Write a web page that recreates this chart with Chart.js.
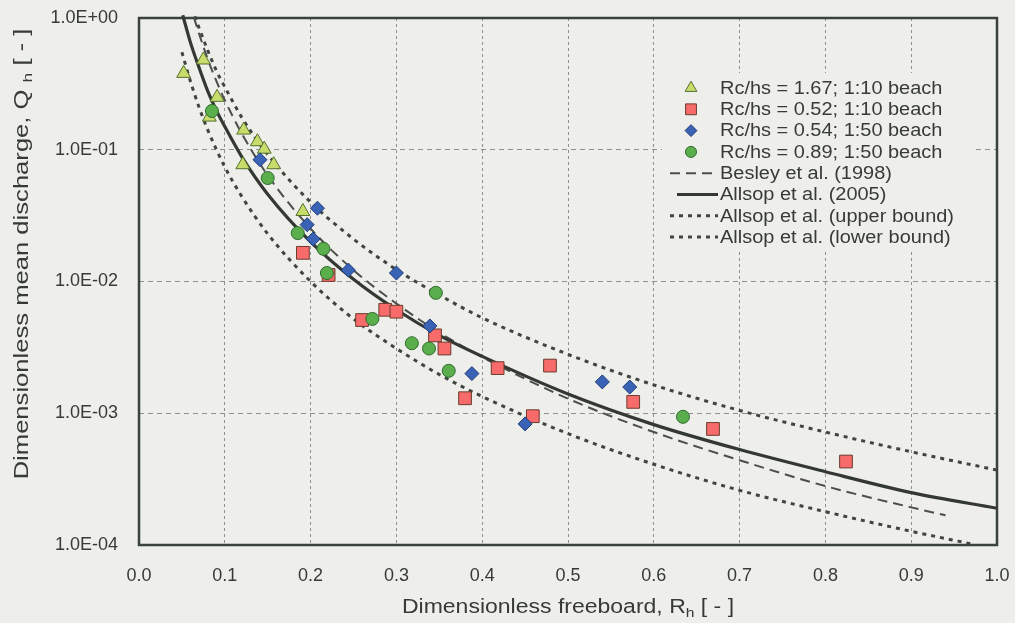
<!DOCTYPE html>
<html>
<head>
<meta charset="utf-8">
<script src="https://cdn.jsdelivr.net/npm/chart.js@4.4.1/dist/chart.umd.min.js"></script>
<style>
  html, body { margin: 0; padding: 0; background: #eeeeeb; }
  #wrap { width: 1015px; height: 623px; }
</style>
</head>
<body>
<div id="wrap"><canvas id="overtopping" width="1015" height="623"></canvas></div>
<script>
// ---- axes ----
const xTicks = [0, 0.1, 0.2, 0.3, 0.4, 0.5, 0.6, 0.7, 0.8, 0.9, 1.0];
const xTickLabels = ['0.0', '0.1', '0.2', '0.3', '0.4', '0.5', '0.6', '0.7', '0.8', '0.9', '1.0'];
const yTicks = [1e-4, 1e-3, 1e-2, 1e-1, 1];
const yTickLabels = ['1.0E-04', '1.0E-03', '1.0E-02', '1.0E-01', '1.0E+00'];

// ---- measured points ----
const triX = [0.052, 0.075, 0.091, 0.082, 0.122, 0.138, 0.146, 0.121, 0.157, 0.191];
const triQ = [0.38, 0.48, 0.25, 0.177, 0.141, 0.115, 0.101, 0.077, 0.077, 0.034];

const sqX = [0.191, 0.221, 0.260, 0.287, 0.300, 0.345, 0.356, 0.418, 0.479, 0.380, 0.459, 0.576, 0.669, 0.824];
const sqQ = [0.0165, 0.0112, 0.0051, 0.0061, 0.0059, 0.0039, 0.0031, 0.0022, 0.0023, 0.0013, 0.00095, 0.00122, 0.00076, 0.00043];

const diaX = [0.141, 0.208, 0.196, 0.203, 0.244, 0.300, 0.339, 0.388, 0.450, 0.540, 0.572];
const diaQ = [0.084, 0.036, 0.027, 0.021, 0.0122, 0.0116, 0.0046, 0.0020, 0.00083, 0.00173, 0.00158];

const cirX = [0.085, 0.150, 0.185, 0.215, 0.219, 0.272, 0.318, 0.338, 0.361, 0.346, 0.634];
const cirQ = [0.197, 0.061, 0.0233, 0.0177, 0.0116, 0.0052, 0.0034, 0.0031, 0.0021, 0.0082, 0.00094];

// ---- prediction curves ----
const besleyX = [0.064, 0.07, 0.08, 0.09, 0.1, 0.12, 0.15, 0.2, 0.25, 0.3, 0.35, 0.4, 0.5, 0.6, 0.7, 0.8, 0.9, 0.94];
const besleyQ = [1.01, 0.76, 0.49, 0.335, 0.238, 0.132, 0.064, 0.0252, 0.0122, 0.0068, 0.0041, 0.00267, 0.00129, 0.00072, 0.00044, 0.00028, 0.000193, 0.000168];

const allsopX = [0.051, 0.06, 0.07, 0.08, 0.09, 0.1, 0.12, 0.15, 0.2, 0.25, 0.3, 0.35, 0.4, 0.5, 0.6, 0.7, 0.8, 0.9, 1.0];
const allsopQ = [1.05, 0.65, 0.42, 0.28, 0.20, 0.15, 0.088, 0.046, 0.020, 0.0104, 0.0061, 0.0039, 0.0027, 0.0014, 0.00082, 0.00053, 0.00036, 0.00025, 0.00019];

const upperX = [0.065, 0.07, 0.08, 0.09, 0.1, 0.12, 0.15, 0.2, 0.25, 0.3, 0.35, 0.4, 0.5, 0.6, 0.7, 0.8, 0.9, 1.0];
const upperQ = [1.03, 0.84, 0.57, 0.40, 0.30, 0.175, 0.092, 0.040, 0.021, 0.0123, 0.0079, 0.0053, 0.0028, 0.00164, 0.00105, 0.00072, 0.00051, 0.00037];

const lowerX = [0.05, 0.06, 0.07, 0.08, 0.09, 0.1, 0.12, 0.15, 0.2, 0.25, 0.3, 0.35, 0.4, 0.5, 0.6, 0.7, 0.8, 0.9, 0.97];
const lowerQ = [0.55, 0.33, 0.21, 0.142, 0.101, 0.074, 0.044, 0.023, 0.0100, 0.0052, 0.0031, 0.00197, 0.00134, 0.0007, 0.00041, 0.00026, 0.000179, 0.000127, 0.000102];

const TEXT = '#363b37';
const BG = '#eeeeeb';
const FONT = '"Liberation Sans", Arial, sans-serif';

function pts(xs, ys) {
    return xs.map((x, i) => ({ x, y: ys[i] }));
}

function markerSet(label, xs, ys, style, radius, fill, stroke, order) {
    return {
        label, data: pts(xs, ys), order,
        pointStyle: style, pointRadius: radius, pointHoverRadius: radius,
        backgroundColor: fill, borderColor: stroke, borderWidth: 1,
        showLine: false
    };
}

function curveSet(label, xs, ys, width, dash, color, order) {
    return {
        label, data: pts(xs, ys), order,
        showLine: true, pointRadius: 0, pointHoverRadius: 0,
        borderColor: color, borderWidth: width, borderDash: dash,
        cubicInterpolationMode: 'monotone', fill: false,
        clip: { left: 0, top: 8, right: 0, bottom: 0 }
    };
}

const datasets = [
    markerSet('Rc/hs = 1.67; 1:10 beach', triX, triQ, 'triangle', 8, '#c8dc6c', '#55702e', 2),
    markerSet('Rc/hs = 0.52; 1:10 beach', sqX, sqQ, 'rect', 9, '#f76b6b', '#6b3b2e', 3),
    markerSet('Rc/hs = 0.54; 1:50 beach', diaX, diaQ, 'rectRot', 7, '#3b63b5', '#1f3c7a', 1),
    markerSet('Rc/hs = 0.89; 1:50 beach', cirX, cirQ, 'circle', 6.5, '#5bae4c', '#2f6b2f', 0),
    curveSet('Besley et al. (1998)', besleyX, besleyQ, 2, [10, 6], '#4a4f4b', 5),
    curveSet('Allsop et al. (2005)', allsopX, allsopQ, 3.2, [], '#333833', 4),
    curveSet('Allsop et al. (upper bound)', upperX, upperQ, 3, [4, 5], '#404540', 6),
    curveSet('Allsop et al. (lower bound)', lowerX, lowerQ, 3, [4, 5], '#404540', 7)
];

// text with a subscript part, optionally stretched horizontally
function drawParts(ctx, parts, size, sx) {
    ctx.save();
    ctx.scale(sx, 1);
    let w = 0;
    parts.forEach(p => {
        ctx.font = (p.sub ? size * 0.68 : size) + 'px ' + FONT;
        w += ctx.measureText(p.t).width;
    });
    let x = -w / 2;
    parts.forEach(p => {
        ctx.font = (p.sub ? size * 0.68 : size) + 'px ' + FONT;
        ctx.fillText(p.t, x, p.sub ? size * 0.3 : 0);
        x += ctx.measureText(p.t).width;
    });
    ctx.restore();
}

const backdrop = {
    id: 'backdrop',
    beforeDraw(chart) {
        const ctx = chart.ctx;
        ctx.save();
        ctx.fillStyle = BG;
        ctx.fillRect(0, 0, chart.width, chart.height);
        ctx.restore();
    },
    beforeDatasetsDraw(chart) {
        const { ctx, chartArea: a } = chart;
        ctx.save();
        // legend panel hides the grid behind it
        ctx.fillStyle = BG;
        ctx.fillRect(662, 73, 312, 177);
        ctx.strokeStyle = '#39423b';
        ctx.lineWidth = 2.5;
        ctx.strokeRect(a.left, a.top, a.right - a.left, a.bottom - a.top);
        ctx.restore();
    }
};

const axisTitles = {
    id: 'axisTitles',
    afterDraw(chart) {
        const { ctx, chartArea: a } = chart;
        ctx.save();
        ctx.fillStyle = TEXT;
        ctx.textBaseline = 'middle';
        ctx.save();
        ctx.translate((a.left + a.right) / 2, 607);
        drawParts(ctx, [{ t: 'Dimensionless freeboard, R' }, { t: 'h', sub: true }, { t: ' [ - ]' }], 20, 1.15);
        ctx.restore();
        ctx.save();
        ctx.translate(22, 254);
        ctx.rotate(-Math.PI / 2);
        drawParts(ctx, [{ t: 'Dimensionless mean discharge, Q ' }, { t: 'h', sub: true }, { t: ' [ - ]' }], 20, 1.28);
        ctx.restore();
        ctx.restore();
    }
};

const legendBox = {
    id: 'legendBox',
    afterDraw(chart) {
        const ctx = chart.ctx;
        const rowY = i => 88 + i * 21.3;
        ctx.save();
        chart.data.datasets.forEach((ds, i) => {
            const y = rowY(i);
            if (ds.showLine) {
                ctx.save();
                ctx.strokeStyle = ds.borderColor;
                ctx.lineWidth = ds.borderWidth;
                ctx.setLineDash(ds.borderDash);
                ctx.beginPath();
                ctx.moveTo(ds.borderDash.length ? 670 : 677, y);
                ctx.lineTo(718, y);
                ctx.stroke();
                ctx.restore();
            } else {
                ctx.save();
                ctx.fillStyle = ds.backgroundColor;
                ctx.strokeStyle = ds.borderColor;
                ctx.lineWidth = 1;
                Chart.helpers.drawPoint(ctx, { pointStyle: ds.pointStyle, radius: ds.pointRadius * 0.85, borderWidth: 1, rotation: 0 }, 691, y);
                ctx.restore();
            }
            ctx.save();
            ctx.fillStyle = TEXT;
            ctx.textBaseline = 'middle';
            ctx.font = '17.5px ' + FONT;
            ctx.translate(720, y + 1);
            ctx.scale(1.14, 1);
            ctx.fillText(ds.label, 0, 0);
            ctx.restore();
        });
        ctx.restore();
    }
};

new Chart(document.getElementById('overtopping'), {
    type: 'scatter',
    data: { datasets },
    options: {
        responsive: false,
        animation: false,
        devicePixelRatio: 1,
        layout: { padding: { top: 18, right: 18, left: 0, bottom: 0 } },
        plugins: {
            legend: { display: false },
            tooltip: { enabled: false }
        },
        scales: {
            x: {
                type: 'linear', min: 0, max: 1,
                afterFit: s => { s.height = 78; s.paddingLeft = 0; s.paddingRight = 0; },
                afterBuildTicks: s => { s.ticks = xTicks.map(v => ({ value: v })); },
                grid: { color: '#8e918e', lineWidth: 1, drawTicks: false },
                border: { display: false, dash: [3, 3] },
                ticks: {
                    padding: 20, color: TEXT,
                    font: { family: FONT, size: 18 },
                    callback: v => xTickLabels[xTicks.findIndex(t => Math.abs(t - v) < 1e-9)]
                }
            },
            y: {
                type: 'logarithmic', min: 1e-4, max: 1,
                afterFit: s => { s.width = 139; s.paddingTop = 0; s.paddingBottom = 0; },
                afterBuildTicks: s => { s.ticks = yTicks.map(v => ({ value: v })); },
                grid: { color: '#8e918e', lineWidth: 1, drawTicks: false },
                border: { display: false, dash: [5, 4] },
                ticks: {
                    padding: 21, color: TEXT,
                    font: { family: FONT, size: 18 },
                    callback: v => yTickLabels[yTicks.findIndex(t => Math.abs(t - v) < v * 1e-6)]
                }
            }
        }
    },
    plugins: [backdrop, axisTitles, legendBox]
});
</script>
</body>
</html>
